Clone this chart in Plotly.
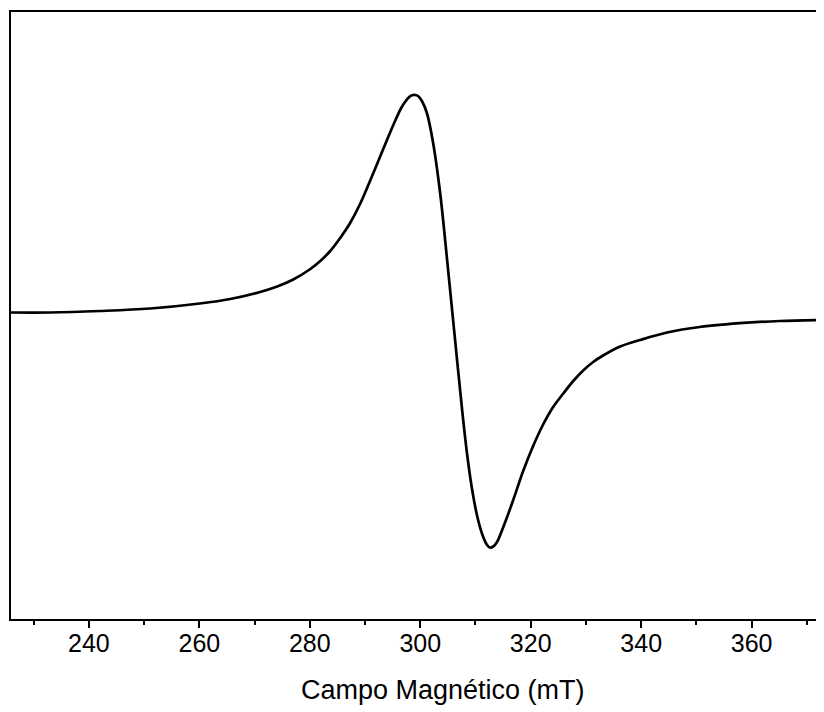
import plotly.graph_objects as go

# Magnetic field (mT) and EPR derivative intensity (a.u.)
field_mT = [225.9, 233.0, 242.0, 251.1, 260.1, 265.6, 271.0, 274.1, 277.0, 280.1,
            281.9, 283.7, 285.5, 287.3, 289.1, 290.9, 292.7, 294.5, 295.6, 296.5,
            297.3, 298.0, 298.5, 299.1, 299.6, 300.3, 301.2, 302.3, 303.6, 304.9,
            305.8, 306.7, 307.6, 308.5, 309.4, 310.3, 311.2, 312.1, 312.6, 313.2,
            313.9, 315.0, 316.8, 318.6, 320.4, 322.2, 324.0, 325.9, 327.7, 329.5,
            331.3, 333.1, 336.2, 339.8, 344.7, 350.6, 359.2, 365.1, 372.9]
intensity = [0.5, 0.5, 2, 4.5, 9.5, 14, 21, 26.5, 33.5, 44,
             52, 62, 75, 90, 109, 132, 156, 180, 194, 204.5,
             211.5, 216, 217.7, 218, 217, 212, 200, 171, 120, 51,
             1, -49, -98, -142, -177, -203, -221, -232, -234.5, -233.5,
             -229, -214.5, -187.5, -158.5, -133.5, -112, -94.5, -80.5, -68, -57.5,
             -49, -42.5, -33.5, -27, -19.5, -14, -9.7, -8, -7]

x_range = [225.9, 373.1]
y_range = [-306, 301]
x_title = "Campo Magnético (mT)"

fig = go.Figure()
fig.add_trace(go.Scatter(x=field_mT, y=intensity, mode="lines",
                         line=dict(color="black", width=2.7, shape="spline", smoothing=1.0),
                         showlegend=False, hoverinfo="skip"))

font_family = "Arial, Liberation Sans, sans-serif"
fig.update_layout(
    width=816, height=704,
    margin=dict(l=3, r=0, t=4, b=93),
    paper_bgcolor="white", plot_bgcolor="white",
    font=dict(family=font_family, color="black"),
    xaxis=dict(range=x_range, showgrid=False, zeroline=False,
               showline=True, linecolor="black", linewidth=2, mirror=True,
               ticks="outside", ticklen=7, tickwidth=2, tickcolor="black",
               tick0=240, dtick=20, ticklabelstandoff=-6,
               tickfont=dict(size=25, family=font_family, color="black"),
               minor=dict(dtick=10, tick0=230, ticks="outside", ticklen=4,
                          tickwidth=2, tickcolor="black", showgrid=False)),
    yaxis=dict(range=y_range, showgrid=False, zeroline=False,
               showline=True, linecolor="black", linewidth=2, mirror=False,
               showticklabels=False, ticks=""),
    annotations=[dict(text=x_title, xref="paper", yref="paper",
                      x=0.531, y=-0.117, xanchor="center", yanchor="middle",
                      showarrow=False,
                      font=dict(size=27, family=font_family, color="black"))],
)

fig.write_html("out.html")
